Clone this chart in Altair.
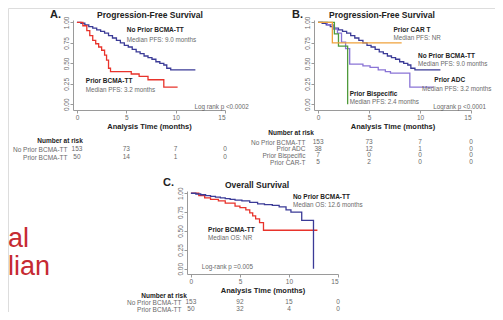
import altair as alt
import pandas as pd

FONT = "Liberation Sans"
BLUE = "#3b3b97"
RED = "#e8332b"
PURPLE = "#8a74d6"
ORANGE = "#f0a23c"
GREEN = "#4f9a3c"
DARK = "#222222"
GRAY = "#6a6a6a"
AXC = "#9a9a9a"

# ---------------- data ----------------
# PFS, no prior BCMA-TT (panels A and B)
pfs_no_t = [0, 0.4, 0.8, 1.2, 1.6, 2.0, 2.4, 2.8, 3.2, 3.6, 4.0, 4.4, 4.8, 5.2, 5.6, 6.0, 6.4, 6.8, 7.2, 7.6, 8.0, 8.4, 8.8, 9.1, 9.5, 12.0]
pfs_no_s = [1.0, 0.99, 0.97, 0.95, 0.93, 0.91, 0.89, 0.87, 0.84, 0.81, 0.78, 0.75, 0.72, 0.70, 0.67, 0.64, 0.62, 0.59, 0.57, 0.55, 0.52, 0.50, 0.48, 0.44, 0.42, 0.42]
# PFS, prior BCMA-TT (panel A)
pfs_prior_t = [0, 0.6, 1.0, 1.3, 1.6, 1.9, 2.2, 2.5, 2.8, 3.0, 3.2, 3.4, 5.5, 6.3, 7.2, 8.8, 10.2]
pfs_prior_s = [1.0, 0.96, 0.90, 0.84, 0.78, 0.74, 0.70, 0.66, 0.60, 0.54, 0.44, 0.40, 0.37, 0.34, 0.30, 0.21, 0.21]
# PFS by prior therapy type (panel B)
adc_t = [0, 0.9, 1.5, 1.9, 2.3, 2.7, 3.1, 4.4, 5.1, 5.9, 6.6, 7.1, 9.0, 11.3]
adc_s = [1.0, 0.97, 0.92, 0.87, 0.76, 0.68, 0.49, 0.47, 0.45, 0.42, 0.40, 0.38, 0.21, 0.21]
cart_t = [0, 1.4, 8.2]
cart_s = [1.0, 0.75, 0.75]
bisp_t = [0, 1.6, 2.0, 2.9]
bisp_s = [1.0, 0.86, 0.71, 0.0]
# OS (panel C)
os_no_t = [0, 0.5, 1.0, 1.5, 2.0, 2.5, 3.0, 3.5, 4.0, 4.5, 5.2, 6.0, 6.8, 7.5, 8.3, 9.0, 9.7, 10.2, 11.3, 12.5]
os_no_s = [1.0, 0.99, 0.98, 0.97, 0.96, 0.95, 0.94, 0.93, 0.92, 0.91, 0.90, 0.88, 0.86, 0.85, 0.84, 0.82, 0.78, 0.75, 0.64, 0.0]
os_prior_t = [0, 0.8, 1.4, 2.0, 2.8, 3.5, 4.5, 5.0, 5.6, 6.0, 6.3, 6.6, 7.0, 7.4, 12.9]
os_prior_s = [1.0, 0.97, 0.94, 0.92, 0.90, 0.87, 0.83, 0.81, 0.78, 0.74, 0.70, 0.66, 0.61, 0.51, 0.51]

# numbers at risk
risk_times = [0, 5, 10, 15]
riskA_rows = ["No Prior BCMA-TT", "Prior BCMA-TT"]
riskA_vals = [[153, 73, 7, 0], [50, 14, 1, 0]]
riskB_rows = ["No Prior BCMA-TT", "Prior ADC", "Prior Bispecific", "Prior CAR-T"]
riskB_vals = [[153, 73, 7, 0], [38, 12, 1, 0], [7, 0, 0, 0], [5, 2, 0, 0]]
riskC_rows = ["No Prior BCMA-TT", "Prior BCMA-TT"]
riskC_vals = [[153, 92, 15, 0], [50, 32, 4, 0]]

# curve annotations: (t, s, bold label, t of second line, s of second line, second line)
annA = [(5.05, 0.91, "No Prior BCMA-TT", 5.05, 0.78, "Median PFS: 9.0 months"),
        (0.9, 0.28, "Prior BCMA-TT", 0.9, 0.17, "Median PFS: 3.2 months")]
annB = [(7.4, 0.91, "Prior CAR T", 7.4, 0.81, "Median PFS: NR"),
        (9.8, 0.59, "No Prior BCMA-TT", 9.8, 0.49, "Median PFS: 9.0 months"),
        (11.4, 0.30, "Prior ADC", 10.2, 0.19, "Median PFS: 3.2 months"),
        (3.1, 0.13, "Prior Bispecific", 3.1, 0.03, "Median PFS: 2.4 months")]
annC = [(10.4, 0.95, "No Prior BCMA-TT", 10.4, 0.85, "Median OS: 12.6 months"),
        (1.75, 0.51, "Prior BCMA-TT", 1.75, 0.41, "Median OS: NR")]
pvalA = (11.9, -0.035, "Log rank p <0.0002")
pvalB = (11.3, -0.035, "Logrank p <0.0001")
pvalC = (1.1, 0.02, "Log-rank p =0.005")

panel_titles = ["Progression-Free Survival", "Progression-Free Survival", "Overall Survival"]
panel_letters = ["A.", "B.", "C."]
side_words = ["al", "lian"]

XDOM = [-0.4, 15]
YDOM = [-0.07, 1.03]
W, H = 487, 304


def km_frame(series):
    return pd.concat([pd.DataFrame({"t": t, "s": s, "g": n}) for n, t, s in series],
                     ignore_index=True)


def panel(series, colors, ann, pval, xr, yr):
    df = km_frame(series)
    names = [n for n, _, _ in series]
    xs = alt.Scale(domain=XDOM, range=xr, nice=False, zero=False)
    ys = alt.Scale(domain=YDOM, range=yr, nice=False, zero=False)
    lines = alt.Chart(df).mark_line(interpolate="step-after", strokeWidth=1.3).encode(
        x=alt.X("t:Q", scale=xs, axis=alt.Axis(
            orient="bottom", offset=yr[0] - H,
            values=[0, 5, 10, 15], title="Analysis Time (months)", grid=False,
            labelFont=FONT, labelFontSize=6.5, labelColor=GRAY, tickColor=AXC,
            domainColor=AXC, tickSize=3, labelPadding=1,
            titleFont=FONT, titleFontSize=7.5, titleFontWeight="bold", titleColor=DARK,
            titlePadding=2)),
        y=alt.Y("s:Q", scale=ys, axis=alt.Axis(
            orient="left", offset=-xr[0],
            values=[0, 0.25, 0.5, 0.75, 1.0], format=".2f", title=None, grid=False,
            labelAngle=270, labelAlign="center", labelBaseline="bottom",
            labelFont=FONT, labelFontSize=6.5, labelColor=GRAY, tickColor=AXC,
            domainColor=AXC, tickSize=3, labelPadding=1)),
        color=alt.Color("g:N", scale=alt.Scale(domain=names, range=colors), legend=None),
    )
    bdf = pd.DataFrame({"t": [a[0] for a in ann], "s": [a[1] for a in ann],
                        "l": [a[2] for a in ann]})
    ndf = pd.DataFrame({"t": [a[3] for a in ann], "s": [a[4] for a in ann],
                        "l": [a[5] for a in ann]})
    bold = alt.Chart(bdf).mark_text(align="left", baseline="middle", font=FONT, fontSize=6.5,
                                    fontWeight="bold", color=DARK).encode(
        x=alt.X("t:Q", scale=xs), y=alt.Y("s:Q", scale=ys), text="l:N")
    norm = alt.Chart(ndf).mark_text(align="left", baseline="middle", font=FONT, fontSize=6.3,
                                    color=GRAY).encode(
        x=alt.X("t:Q", scale=xs), y=alt.Y("s:Q", scale=ys), text="l:N")
    pdf = pd.DataFrame({"t": [pval[0]], "s": [pval[1]], "l": [pval[2]]})
    ptxt = alt.Chart(pdf).mark_text(align="left", baseline="middle", font=FONT, fontSize=6.3,
                                    color=GRAY).encode(
        x=alt.X("t:Q", scale=xs), y=alt.Y("s:Q", scale=ys), text="l:N")
    return alt.layer(lines, bold, norm, ptxt)


def risk_table(rows, vals, xr, yr, pad):
    recs = []
    for r, v in zip(rows, vals):
        for t, n in zip(risk_times, v):
            recs.append({"t": t, "row": r, "n": str(n)})
    df = pd.DataFrame(recs)
    return alt.Chart(df).mark_text(font=FONT, fontSize=6.5, color=GRAY, baseline="middle").encode(
        x=alt.X("t:Q", scale=alt.Scale(domain=XDOM, range=xr, nice=False, zero=False), axis=None),
        y=alt.Y("row:N", sort=rows, scale=alt.Scale(type="point", padding=0, range=yr),
                axis=alt.Axis(orient="left", offset=-xr[0], title=None, ticks=False, domain=False,
                              labelPadding=pad, labelFont=FONT, labelFontSize=6.5,
                              labelColor=GRAY, labelBaseline="middle")),
        text="n:N",
    )


def label(text, x, y, size, weight="normal", color=DARK, align="center", baseline="middle"):
    return alt.Chart(pd.DataFrame({"l": [text]})).mark_text(
        align=align, baseline=baseline, font=FONT, fontSize=size, fontWeight=weight,
        color=color).encode(x=alt.value(x), y=alt.value(y), text="l:N")


XR_A, YR_A = [65, 217], [102, 12]
XR_B, YR_B = [306, 463], [102, 12]
XR_C, YR_C = [179, 330], [266, 183]

pA = panel([("No Prior BCMA-TT", pfs_no_t, pfs_no_s), ("Prior BCMA-TT", pfs_prior_t, pfs_prior_s)],
           [BLUE, RED], annA, pvalA, XR_A, YR_A)
pB = panel([("No Prior BCMA-TT", pfs_no_t, pfs_no_s), ("Prior ADC", adc_t, adc_s),
            ("Prior Bispecific", bisp_t, bisp_s), ("Prior CAR T", cart_t, cart_s)],
           [BLUE, PURPLE, GREEN, ORANGE], annB, pvalB, XR_B, YR_B)
pC = panel([("Prior BCMA-TT", os_prior_t, os_prior_s), ("No Prior BCMA-TT", os_no_t, os_no_s)],
           [RED, BLUE], annC, pvalC, XR_C, YR_C)

tA = risk_table(riskA_rows, riskA_vals, XR_A, [141, 149], 6)
tB = risk_table(riskB_rows, riskB_vals, XR_B, [134, 154], 9)
tC = risk_table(riskC_rows, riskC_vals, XR_C, [294, 301], 6)

texts = [
    label(panel_titles[0], 142, 7, 8.5, "bold"),
    label(panel_titles[1], 374, 7, 8.5, "bold"),
    label(panel_titles[2], 249, 177, 8.5, "bold"),
    label(panel_letters[0], 42, 7, 11, "bold", align="left"),
    label(panel_letters[1], 284, 7, 11, "bold", align="left"),
    label(panel_letters[2], 155, 175, 11, "bold", align="left"),
    label("Number at risk", 52, 133, 6.5, "bold"),
    label("Number at risk", 283, 125, 6.5, "bold"),
    label("Number at risk", 156, 288, 6.5, "bold"),
    label(side_words[0], 0, 239, 27, color="#c62a32", align="left", baseline="alphabetic"),
    label(side_words[1], 0, 267, 27, color="#c62a32", align="left", baseline="alphabetic"),
]

chart = alt.layer(pA, pB, pC, tA, tB, tC, *texts).resolve_scale(
    x="independent", y="independent", color="independent"
).resolve_axis(x="independent", y="independent").properties(
    width=W, height=H, autosize=alt.AutoSizeParams(type="none"), padding=0
).configure_view(stroke="transparent").configure(background="white")

chart.save("out.html", embed_options={"renderer": "svg", "actions": False})
